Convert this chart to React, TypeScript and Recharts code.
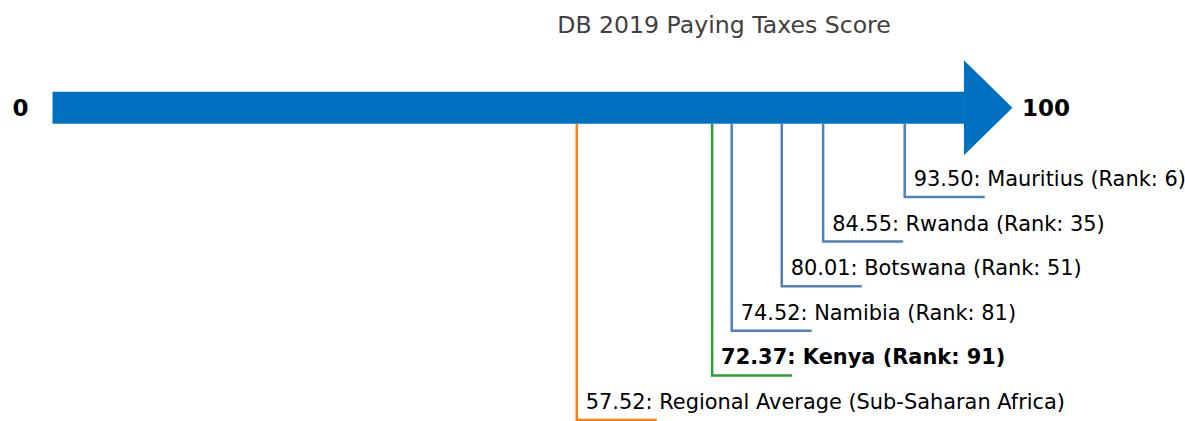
import { ComposedChart, XAxis, YAxis, Scatter, ReferenceArea } from 'recharts';

const countries = ['Mauritius', 'Rwanda', 'Botswana', 'Namibia', 'Kenya', 'Regional Average (Sub-Saharan Africa)'];
const scores = [93.5, 84.55, 80.01, 74.52, 72.37, 57.52];
const ranks = [6, 35, 51, 81, 91, null];
const colors = ['#4f81bd', '#4f81bd', '#4f81bd', '#4f81bd', '#2ca02c', '#ff7f0e'];
const highlight = 'Kenya';
const scaleEnds = [0, 100];

const FONT = "'DejaVu Sans', sans-serif";
const BAR_Y = -1; // arrow sits above the leader levels
const TICK_LEN = 8.78; // horizontal leader length in score units

// one leader per entry: bar bottom -> level -> short horizontal run
const leaders = countries.map((name, i) => {
  const score = scores[i];
  const level = i + 1;
  const text = `${score.toFixed(2)}: ${name}` + (ranks[i] != null ? ` (Rank: ${ranks[i]})` : '');
  return {
    name,
    color: colors[i],
    bold: name === highlight,
    points: [
      { x: score, y: BAR_Y + 0.36 },
      { x: score, y: level, text },
      { x: score + TICK_LEN, y: level },
    ],
  };
});

const endLabels = scaleEnds.map((v, i) => ({ x: v, y: BAR_Y, label: String(v), side: i === 0 ? 'left' : 'right' }));

const LeaderText = (bold: boolean) => (props: any) => {
  const { cx, cy, payload } = props;
  if (!payload || !payload.text) return <g />;
  return (
    <text x={cx + 9} y={cy - 11} fontFamily={FONT} fontSize={20.9} fontWeight={bold ? 'bold' : 'normal'} fill="#000">
      {payload.text}
    </text>
  );
};

const ArrowHead = (props: any) => {
  const { cx, cy } = props;
  return <polygon points={`${cx},${cy - 47.5} ${cx + 48.5},${cy} ${cx},${cy + 47.5}`} fill="#0070c0" />;
};

const EndLabel = (props: any) => {
  const { cx, cy, payload } = props;
  const left = payload.side === 'left';
  return (
    <text
      x={left ? cx - 24 : cx + 58}
      y={cy + 8.5}
      textAnchor={left ? 'end' : 'start'}
      fontFamily={FONT}
      fontSize={23}
      fontWeight="bold"
      fill="#000"
    >
      {payload.label}
    </text>
  );
};

export default function App() {
  return (
    <div style={{ position: 'absolute', left: 0, top: 0, width: 1185, height: 421, background: '#fff' }}>
      <div
        style={{
          position: 'absolute',
          left: 424,
          top: 14,
          width: 600,
          textAlign: 'center',
          fontFamily: FONT,
          fontSize: 23.6,
          lineHeight: '22px',
          color: '#404040',
        }}
      >
        DB 2019 Paying Taxes Score
      </div>
      <ComposedChart width={1185} height={421} margin={{ top: 36.4, right: 2.3, bottom: 1, left: 2.37 }}>
        <XAxis type="number" dataKey="x" domain={[-5.5, 124]} hide />
        <YAxis type="number" dataKey="y" domain={[-2.6, 6]} reversed hide />
        <ReferenceArea
          x1={scaleEnds[0]}
          x2={scaleEnds[1]}
          y1={BAR_Y - 0.36}
          y2={BAR_Y + 0.36}
          fill="#0070c0"
          fillOpacity={1}
          stroke="none"
        />
        <Scatter data={[{ x: scaleEnds[1], y: BAR_Y }]} shape={ArrowHead} isAnimationActive={false} />
        <Scatter data={endLabels} shape={EndLabel} isAnimationActive={false} />
        {leaders.map((l) => (
          <Scatter
            key={l.name}
            data={l.points}
            fill={l.color}
            line={{ stroke: l.color, strokeWidth: 2.5 }}
            shape={LeaderText(l.bold)}
            isAnimationActive={false}
          />
        ))}
      </ComposedChart>
    </div>
  );
}
